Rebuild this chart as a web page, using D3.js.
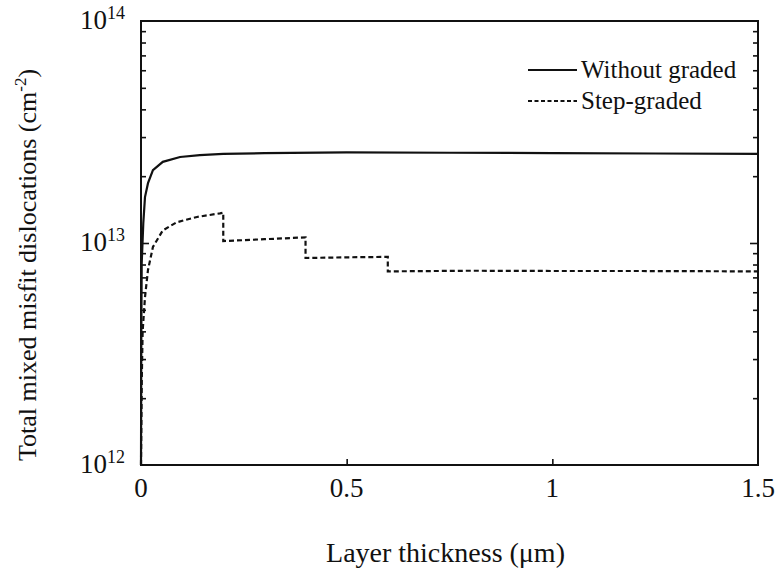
<!DOCTYPE html>
<html>
<head>
<meta charset="utf-8">
<script src="https://cdn.jsdelivr.net/npm/d3@7"></script>
<style>
  html, body { margin: 0; padding: 0; background: #fff; }
  svg { display: block; }
  text { font-family: "Liberation Serif", "DejaVu Serif", serif; fill: #111; }
</style>
</head>
<body>
<svg id="chart" width="780" height="578"></svg>
<script>
// Layer thickness (µm) and total mixed misfit dislocation density (cm^-2)
const thicknessWithout = [0, 0.0008, 0.0017, 0.0056, 0.0097, 0.017, 0.029, 0.053, 0.095, 0.143, 0.2, 0.3, 0.5, 0.75, 1.0, 1.25, 1.5];
const densityWithout   = [1e12, 4e12, 8.1e12, 1.23e13, 1.61e13, 1.86e13, 2.13e13, 2.32e13, 2.44e13, 2.49e13, 2.52e13, 2.54e13, 2.56e13, 2.55e13, 2.54e13, 2.53e13, 2.52e13];

const thicknessStep = [0, 0.002, 0.004, 0.0097, 0.017, 0.029, 0.053, 0.087, 0.136, 0.192, 0.2, 0.2, 0.25, 0.3, 0.35, 0.4, 0.4, 0.5, 0.6, 0.6, 0.8, 1.0, 1.2, 1.5];
const densityStep   = [1e12, 2.5e12, 4e12, 5.7e12, 7.56e12, 9.6e12, 1.14e13, 1.24e13, 1.31e13, 1.36e13, 1.37e13, 1.02e13, 1.03e13, 1.04e13, 1.05e13, 1.06e13, 8.56e12, 8.62e12, 8.66e12, 7.45e12, 7.5e12, 7.48e12, 7.48e12, 7.45e12];

const seriesNames = ["Without graded", "Step-graded"];
const xTickValues = [0, 0.5, 1, 1.5];
const xTickLabels = ["0", "0.5", "1", "1.5"];
const yMajorExponents = [12, 13, 14];

const xTitle = "Layer thickness (\u03bcm)";
const yTitle = "Total mixed misfit dislocations (cm";

const svg = d3.select("#chart");
const plotLeft = 141, plotRight = 758, plotTop = 21, plotBottom = 465;

const x = d3.scaleLinear().domain([0, 1.5]).range([plotLeft, plotRight]);
const y = d3.scaleLog().domain([1e12, 1e14]).range([plotBottom, plotTop]);

// Minor log ticks (2..9 per decade)
const minor = [];
for (const e of [12, 13]) for (let m = 2; m <= 9; m++) minor.push(m * Math.pow(10, e));

const axisColor = "#111";

// Left axis with inward ticks
const gL = svg.append("g").attr("transform", `translate(${plotLeft},0)`)
  .call(d3.axisRight(y).tickValues(minor).tickSize(5).tickFormat(""));
const gL2 = svg.append("g").attr("transform", `translate(${plotLeft},0)`)
  .call(d3.axisRight(y).tickValues([1e13]).tickSize(8).tickFormat(""));
// Right axis with inward ticks
const gR = svg.append("g").attr("transform", `translate(${plotRight},0)`)
  .call(d3.axisLeft(y).tickValues(minor).tickSize(5).tickFormat(""));
const gR2 = svg.append("g").attr("transform", `translate(${plotRight},0)`)
  .call(d3.axisLeft(y).tickValues([1e13]).tickSize(8).tickFormat(""));
// Bottom axis with inward ticks
const gB = svg.append("g").attr("transform", `translate(0,${plotBottom})`)
  .call(d3.axisTop(x).tickValues([0.5, 1]).tickSize(6).tickFormat(""));

[gL, gL2, gR, gR2, gB].forEach(g => {
  g.select(".domain").remove();
  g.selectAll(".tick line").attr("stroke", axisColor).attr("stroke-width", 1.6);
});

// Frame
svg.append("rect")
  .attr("x", plotLeft).attr("y", plotTop)
  .attr("width", plotRight - plotLeft).attr("height", plotBottom - plotTop)
  .attr("fill", "none").attr("stroke", axisColor).attr("stroke-width", 2);

// X tick labels
svg.append("g").selectAll("text").data(xTickValues).join("text")
  .attr("x", d => x(d))
  .attr("y", plotBottom + 32)
  .attr("text-anchor", "middle")
  .attr("font-size", 27)
  .text((d, i) => xTickLabels[i]);

// Y tick labels (powers of ten)
const yl = svg.append("g").selectAll("text").data(yMajorExponents).join("text")
  .attr("x", plotLeft - 16)
  .attr("y", d => y(Math.pow(10, d)) + 8)
  .attr("text-anchor", "end")
  .attr("font-size", 27);
yl.append("tspan").text("10");
yl.append("tspan").attr("font-size", 18).attr("dy", -10).text(d => d);

// Axis titles
svg.append("text")
  .attr("x", (plotLeft + plotRight) / 2 - 4)
  .attr("y", 562)
  .attr("text-anchor", "middle")
  .attr("font-size", 28)
  .text(xTitle);

const yt = svg.append("text")
  .attr("transform", `translate(36,${265}) rotate(-90)`)
  .attr("text-anchor", "middle")
  .attr("font-size", 26);
yt.append("tspan").text(yTitle);
yt.append("tspan").attr("font-size", 17).attr("dy", -10).text("-2");
yt.append("tspan").attr("dy", 10).text(")");

// Curves
const line = d3.line().x(d => x(d[0])).y(d => y(d[1]));
const solidData = d3.zip(thicknessWithout, densityWithout);
const stepData = d3.zip(thicknessStep, densityStep);

svg.append("path").datum(solidData)
  .attr("d", line).attr("fill", "none")
  .attr("stroke", "#111").attr("stroke-width", 2.2);

svg.append("path").datum(stepData)
  .attr("d", line).attr("fill", "none")
  .attr("stroke", "#111").attr("stroke-width", 2.2)
  .attr("stroke-dasharray", "5,3");

// Legend
const legend = svg.append("g");
const lx0 = 528, lx1 = 577;
[70, 101].forEach((ly, i) => {
  legend.append("line")
    .attr("x1", lx0).attr("x2", lx1).attr("y1", ly).attr("y2", ly)
    .attr("stroke", "#111").attr("stroke-width", 1.8)
    .attr("stroke-dasharray", i === 1 ? "4,2.5" : null);
  legend.append("text")
    .attr("x", lx1 + 4).attr("y", ly + 8)
    .attr("font-size", 25)
    .text(seriesNames[i]);
});
</script>
</body>
</html>
